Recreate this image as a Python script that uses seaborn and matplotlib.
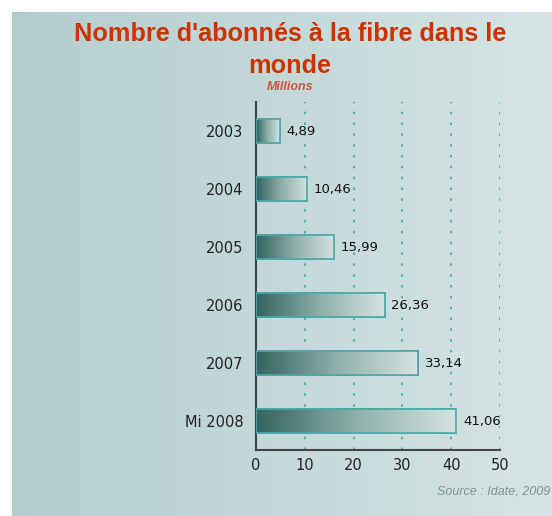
import numpy as np
import pandas as pd
import matplotlib
matplotlib.use("Agg")
import matplotlib.pyplot as plt
from matplotlib.colors import LinearSegmentedColormap
import seaborn as sns

# data
years = ["2003", "2004", "2005", "2006", "2007", "Mi 2008"]
subscribers = [4.89, 10.46, 15.99, 26.36, 33.14, 41.06]
x_ticks = [0, 10, 20, 30, 40, 50]

df = pd.DataFrame({"annee": years, "abonnes": subscribers})

sns.set_theme(style="white")
plt.rcParams["font.family"] = ["DejaVu Sans"]

fig = plt.figure(figsize=(5.52, 5.16), dpi=100)

# gradient background panel
bg_ax = fig.add_axes([12 / 552, 0, 540 / 552, 504 / 516])
bg_cmap = LinearSegmentedColormap.from_list("bg", ["#b3cdcf", "#d6e4e4"])
bg_ax.imshow(np.linspace(0, 1, 256).reshape(1, -1), cmap=bg_cmap, aspect="auto",
             extent=[0, 1, 0, 1])
bg_ax.set_axis_off()

ax = fig.add_axes([256 / 552, 1 - 450 / 516, 244 / 552, 348 / 516])
ax.patch.set_alpha(0)

sns.barplot(data=df, x="abonnes", y="annee", orient="h", width=0.43,
            color="#7fa39f", edgecolor="#4aa8a8", linewidth=1.2, ax=ax, zorder=3)

# left-to-right gradient inside each bar
bar_cmap = LinearSegmentedColormap.from_list("bar", ["#33645f", "#8fb0ab", "#d6e3e2"])
grad = np.linspace(0, 1, 256).reshape(1, -1)
for patch in ax.patches:
    x0, y0 = patch.get_x(), patch.get_y()
    w, h = patch.get_width(), patch.get_height()
    im = ax.imshow(grad, cmap=bar_cmap, aspect="auto",
                   extent=[x0, x0 + w, y0 + h, y0], zorder=3.5)
    im.set_clip_path(patch)
    ax.add_patch(plt.Rectangle((x0, y0), w, h, fill=False,
                               edgecolor="#4aa8a8", linewidth=1.2, zorder=4))

for i, v in enumerate(subscribers):
    ax.text(v + 1.4, i, f"{v:.2f}".replace(".", ","), va="center", ha="left",
            fontsize=9.5, color="#111111", zorder=5)

ax.set_xlim(0, 50)
ax.set_ylim(5.5, -0.5)
ax.set_xticks(x_ticks)
ax.set_xticklabels([str(t) for t in x_ticks], fontsize=10.5, color="#222222")
ax.tick_params(axis="y", labelsize=10.5, labelcolor="#222222", length=0, pad=9)
ax.tick_params(axis="x", length=0, pad=6)
ax.set_xlabel("")
ax.set_ylabel("")

for t in x_ticks[1:]:
    ax.axvline(t, color="#3fa9a9", linestyle=(0, (1.5, 5)), linewidth=1.2, zorder=1)

for side in ["top", "right"]:
    ax.spines[side].set_visible(False)
ax.spines["left"].set_color("#444444")
ax.spines["bottom"].set_color("#444444")
ax.spines["left"].set_linewidth(1.5)
ax.spines["bottom"].set_linewidth(1.5)

fig.text(290 / 552, 1 - 50 / 516, "Nombre d'abonnés à la fibre dans le\nmonde",
         ha="center", va="center", fontsize=18.2, fontweight="bold",
         color="#cc3300", linespacing=1.45, family=["Liberation Sans", "DejaVu Sans"])
fig.text(290 / 552, 1 - 87 / 516, "Millions", ha="center", va="center",
         fontsize=9, style="italic", fontweight="bold", color="#c8553a",
         family=["Liberation Sans", "DejaVu Sans"])
fig.text(550 / 552, 1 - 491 / 516, "Source : Idate, 2009", ha="right", va="center",
         fontsize=9, style="italic", color="#7f9294",
         family=["Liberation Sans", "DejaVu Sans"])

fig.savefig("out.png", dpi=100)
